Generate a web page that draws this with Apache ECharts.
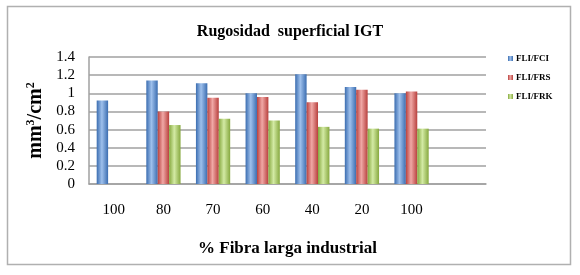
<!DOCTYPE html>
<html>
<head>
<meta charset="utf-8">
<script src="https://cdn.jsdelivr.net/npm/echarts@6/dist/echarts.min.js"></script>
<style>
  html, body { margin: 0; padding: 0; background: #fff; }
  #chart { width: 580px; height: 275px; }
</style>
</head>
<body>
<div id="chart"></div>
<script>
// categories (last slot is left empty, as in the original sheet)
const categories = ['100', '80', '70', '60', '40', '20', '100', '']
const fliFci = [0.92, 1.14, 1.11, 1.00, 1.21, 1.07, 1.00, null]
const fliFrs = [null, 0.80, 0.95, 0.96, 0.90, 1.04, 1.02, null]
const fliFrk = [null, 0.65, 0.72, 0.70, 0.63, 0.61, 0.61, null]
const yTicks = [0, 0.2, 0.4, 0.6, 0.8, 1, 1.2, 1.4]

const serif = '"Liberation Serif", "DejaVu Serif", serif'

// bar fill: darker edges, lighter middle (Excel 2007 look)
function shade (edge, mid) {
  return new echarts.graphic.LinearGradient(0, 0, 1, 0, [
    { offset: 0, color: edge },
    { offset: 0.45, color: mid },
    { offset: 1, color: edge }
  ])
}

const chart = echarts.init(document.getElementById('chart'), null, { renderer: 'canvas', width: 580, height: 275 })

const option = {
  animation: false,
  graphic: [{
    type: 'rect',
    shape: { x: 7.5, y: 6.5, width: 563, height: 258 },
    style: { fill: 'none', stroke: '#b0b0b0', lineWidth: 1.5 },
    silent: true
  }],
  title: {
    text: 'Rugosidad  superficial IGT',
    left: 'center',
    top: 19,
    textStyle: { fontFamily: serif, fontWeight: 'bold', fontSize: 16, color: '#000' }
  },
  legend: {
    orient: 'vertical',
    left: 503,
    top: 49,
    itemWidth: 5,
    itemHeight: 5,
    itemGap: 10,
    icon: 'rect',
    textStyle: { fontFamily: serif, fontWeight: 'bold', fontSize: 9, color: '#000', padding: [0, 0, 0, -2] },
    data: ['FLI/FCI', 'FLI/FRS', 'FLI/FRK']
  },
  grid: { left: 89, right: 94, top: 57, bottom: 91 },
  xAxis: {
    type: 'category',
    data: categories,
    name: '% Fibra larga industrial',
    nameLocation: 'middle',
    nameGap: 56,
    nameTextStyle: { fontFamily: serif, fontWeight: 'bold', fontSize: 17, color: '#000' },
    axisLine: { lineStyle: { color: '#a0a0a0', width: 1.5 } },
    axisTick: { show: false },
    axisLabel: { fontFamily: serif, fontSize: 15, color: '#000', margin: 19 }
  },
  yAxis: {
    type: 'value',
    min: 0,
    max: 1.4,
    interval: 0.2,
    name: 'mm{s|3}/cm{s|2}',
    nameLocation: 'middle',
    nameGap: 42,
    nameRotate: 90,
    nameTextStyle: {
      fontFamily: serif, fontWeight: 'bold', fontSize: 20, color: '#000',
      rich: {
        s: { fontFamily: serif, fontWeight: 'bold', fontSize: 12, verticalAlign: 'top', padding: [0, 0, 9, 0] }
      }
    },
    axisLine: { show: true, lineStyle: { color: '#a0a0a0', width: 1.5 } },
    axisTick: { show: false },
    splitLine: { lineStyle: { color: '#a0a0a0', width: 1.5 } },
    axisLabel: {
      fontFamily: serif, fontSize: 15, color: '#000', margin: 14,
      formatter: v => yTicks.includes(Math.round(v * 10) / 10) ? String(Math.round(v * 10) / 10) : ''
    }
  },
  series: [
    {
      name: 'FLI/FCI', type: 'bar', data: fliFci,
      barGap: '0%', barCategoryGap: '31%',
      itemStyle: { color: shade('#3b6db0', '#9ec0ec') }
    },
    {
      name: 'FLI/FRS', type: 'bar', data: fliFrs,
      itemStyle: { color: shade('#b8403d', '#f0a8a6') }
    },
    {
      name: 'FLI/FRK', type: 'bar', data: fliFrk,
      itemStyle: { color: shade('#86a83f', '#d3eaa4') }
    }
  ]
}

chart.setOption(option)
</script>
</body>
</html>
